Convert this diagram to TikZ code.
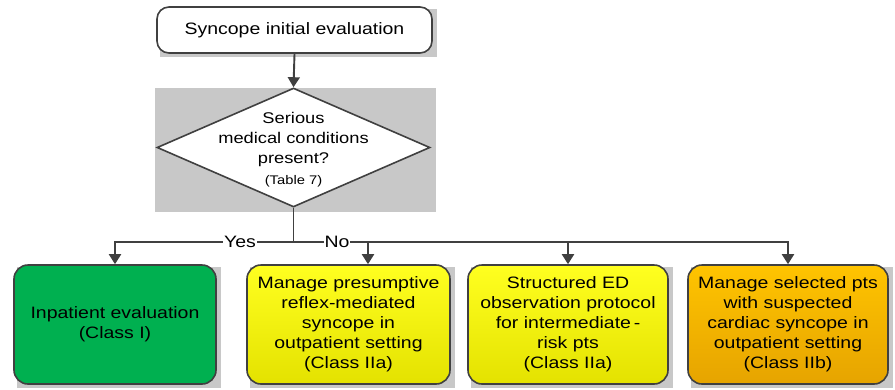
\documentclass[tikz,border=0pt]{standalone}
\usepackage{fontspec}
\setmainfont{Liberation Sans}[FakeStretch=1.18]
\usetikzlibrary{shapes.geometric,arrows.meta,backgrounds}
\definecolor{lineg}{HTML}{404040}
\definecolor{shad}{HTML}{C8C8C8}
\definecolor{ggreen}{HTML}{00B050}
\definecolor{yeltop}{HTML}{FFFF20}
\definecolor{yelbot}{HTML}{E4E200}
\definecolor{ortop}{HTML}{FFC400}
\definecolor{orbot}{HTML}{E6A400}
\begin{document}
\begin{tikzpicture}[x=1pt,y=-1pt,
  outbox/.style={draw=lineg, line width=1.6pt, rounded corners=14pt,
    minimum width=202pt, minimum height=119pt, align=center, inner sep=2pt,
    font=\fontsize{16.5}{20}\selectfont},
  topbox/.style={draw=lineg, line width=1.6pt, rounded corners=12pt, fill=white,
    minimum width=275pt, minimum height=46pt, inner sep=2pt,
    font=\fontsize{16.5}{20}\selectfont},
  conn/.style={draw=lineg, line width=1.9pt},
  arr/.style={conn, -{Triangle[length=10pt,width=12pt]}},
  lbl/.style={fill=white, inner sep=1pt, font=\fontsize{16.5}{20}\selectfont}]
\useasboundingbox (0,0) rectangle (895,389);
% gray background behind decision
\fill[shad] (155,88) rectangle (436,212);
\node[topbox] (top) at (294.5,30) {Syncope initial evaluation};
\node[diamond, draw=lineg, fill=white, line width=1.6pt, minimum width=273pt,
  minimum height=119pt, inner sep=0pt] (dia) at (293.5,147.5) {};
\node[align=center, inner sep=0pt, font=\fontsize{15.5}{20}\selectfont] (diat) at (293.5,150)
  {Serious\\medical conditions\\present?\\[1pt]{\fontsize{12.5}{15}\selectfont (Table 7)}};
\node[outbox, fill=ggreen] (b1) at (115,324.5) {Inpatient evaluation\\(Class I)};
\node[outbox, top color=yeltop, bottom color=yelbot, minimum width=203pt] (b2) at (348.5,324.5)
  {Manage presumptive\\reflex-mediated\\syncope in\\outpatient setting\\(Class IIa)};
\node[outbox, top color=yeltop, bottom color=yelbot, minimum width=200pt] (b3) at (568,324.5)
  {Structured ED\\observation protocol\\for intermediate\,-\\risk pts\\(Class IIa)};
\node[outbox, top color=ortop, bottom color=orbot, minimum width=200pt] (b4) at (788,324.5)
  {Manage selected pts\\with suspected\\cardiac syncope in\\outpatient setting\\(Class IIb)};
\begin{scope}[on background layer]
  \foreach \b in {top,b1,b2,b3,b4}{
    \fill[shad] ([xshift=4pt,yshift=-3pt]\b.south west) rectangle ([xshift=4pt,yshift=-3pt]\b.north east);
  }
\end{scope}
\coordinate (j) at (293.5,242);
\draw[arr] (top.south) -- (dia.north);
\draw[conn] (dia.south) -- (j);
\draw[arr] (j) -| (b1.north);
\draw[arr] (j) -| ([xshift=19.5pt]b2.north);
\draw[arr] (j) -| (b3.north);
\draw[arr] (j) -| (b4.north);
\node[lbl] (yes) at (240,242) {Yes};
\node[lbl] (no) at (337,242) {No};
\end{tikzpicture}
\end{document}
